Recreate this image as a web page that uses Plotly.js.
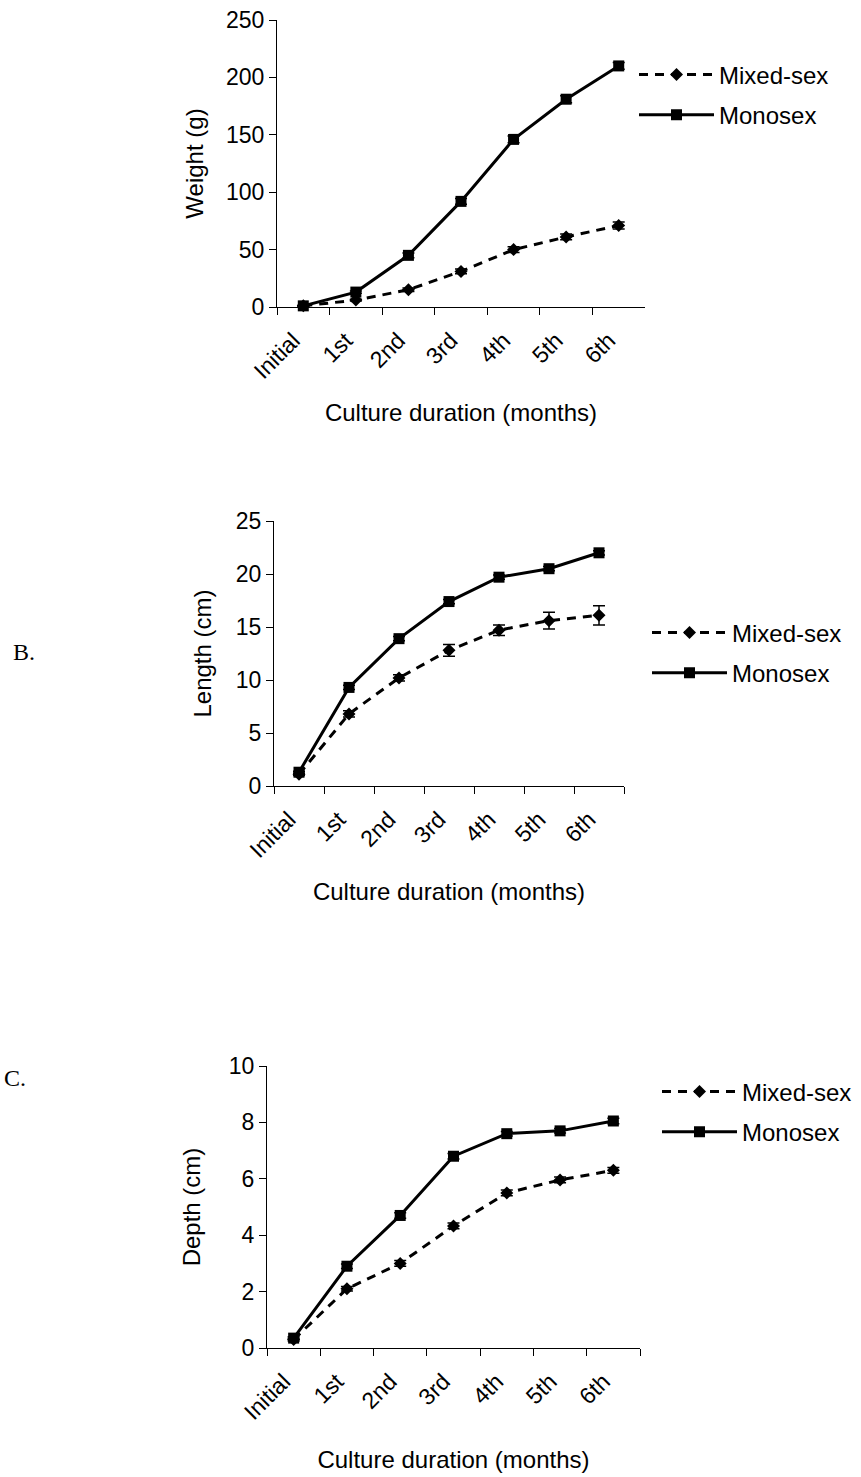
<!DOCTYPE html>
<html>
<head>
<meta charset="utf-8">
<script src="https://cdn.plot.ly/plotly-3.0.1.min.js"></script>
<style>
html,body{margin:0;padding:0;background:#ffffff;}
#chart{width:861px;height:1477px;}
</style>
</head>
<body>
<div id="chart"></div>
<script>
// ---- data ----
const months = ["Initial", "1st", "2nd", "3rd", "4th", "5th", "6th"];

const weightMixed    = [1, 6, 15, 31, 50, 61, 71];
const weightMixedErr = [0.3, 0.8, 1.5, 2, 2.5, 2.5, 3];
const weightMono     = [1, 13, 45, 92, 146, 181, 210];
const weightMonoErr  = [0.3, 1, 2, 2.5, 3, 3, 3];

const lengthMixed    = [1.1, 6.8, 10.2, 12.8, 14.7, 15.6, 16.1];
const lengthMixedErr = [0.1, 0.3, 0.3, 0.55, 0.5, 0.8, 0.9];
const lengthMono     = [1.3, 9.3, 13.9, 17.4, 19.7, 20.5, 22.0];
const lengthMonoErr  = [0.1, 0.2, 0.2, 0.2, 0.2, 0.2, 0.2];

const depthMixed     = [0.3, 2.1, 3.0, 4.33, 5.5, 5.96, 6.3];
const depthMixedErr  = [0.05, 0.08, 0.1, 0.1, 0.1, 0.1, 0.1];
const depthMono      = [0.35, 2.9, 4.7, 6.8, 7.6, 7.7, 8.05];
const depthMonoErr   = [0.05, 0.08, 0.1, 0.1, 0.08, 0.08, 0.1];

const xTitle = "Culture duration (months)";
const seriesNames = ["Mixed-sex", "Monosex"];
const panelLabels = ["B.", "C."];

// ---- helpers ----
const W = 861, H = 1477;
const FONT = "Liberation Sans, Arial, sans-serif";
const px = v => v / W;
const py = v => 1 - v / H;

function mixedTrace(y, err, xa, ya, leg, grp) {
  return {
    x: months, y: y, type: "scatter", mode: "lines+markers",
    name: seriesNames[0], xaxis: xa, yaxis: ya, legend: leg, legendgroup: grp + "a",
    line: {color: "#000", width: 3, dash: "9px,7px"},
    marker: {symbol: "diamond", size: 10, color: "#000"},
    error_y: {type: "data", array: err, visible: true, color: "#000", thickness: 1.5, width: 6},
    cliponaxis: false
  };
}
function monoTrace(y, err, xa, ya, leg, grp) {
  return {
    x: months, y: y, type: "scatter", mode: "lines+markers",
    name: seriesNames[1], xaxis: xa, yaxis: ya, legend: leg, legendgroup: grp + "b",
    line: {color: "#000", width: 3},
    marker: {symbol: "square", size: 11, color: "#000"},
    error_y: {type: "data", array: err, visible: true, color: "#000", thickness: 1.5, width: 6},
    cliponaxis: false
  };
}

const traces = [
  mixedTrace(weightMixed, weightMixedErr, "x", "y", "legend", "A"),
  monoTrace(weightMono, weightMonoErr, "x", "y", "legend", "A"),
  mixedTrace(lengthMixed, lengthMixedErr, "x2", "y2", "legend2", "B"),
  monoTrace(lengthMono, lengthMonoErr, "x2", "y2", "legend2", "B"),
  mixedTrace(depthMixed, depthMixedErr, "x3", "y3", "legend3", "C"),
  monoTrace(depthMono, depthMonoErr, "x3", "y3", "legend3", "C")
];

function xAxis(l, r, anchor, standoff) {
  return {
    domain: [px(l), px(r)], anchor: anchor, type: "category",
    range: [-0.5, 6.5], tickson: "boundaries",
    ticks: "outside", ticklen: 7, tickwidth: 1, tickcolor: "#000",
    showline: true, linecolor: "#000", linewidth: 1,
    showgrid: false, zeroline: false, tickangle: -45,
    ticklabelshift: -10, ticklabelstandoff: 10,
    tickfont: {family: FONT, size: 23, color: "#000"},
    title: {text: xTitle, font: {family: FONT, size: 24, color: "#000"}, standoff: standoff},
    automargin: false, fixedrange: true
  };
}
function yAxis(t, b, anchor, maxv, dt, title, standoff) {
  return {
    domain: [py(b), py(t)], anchor: anchor, range: [0, maxv], dtick: dt, tick0: 0,
    ticks: "outside", ticklen: 7, tickwidth: 1, tickcolor: "#000",
    showline: true, linecolor: "#000", linewidth: 1,
    showgrid: false, zeroline: false,
    tickfont: {family: FONT, size: 23, color: "#000"},
    title: {text: title, font: {family: FONT, size: 24, color: "#000"}, standoff: standoff},
    automargin: false, fixedrange: true
  };
}
function legendAt(x, yc) {
  return {
    x: px(x), y: py(yc), xanchor: "left", yanchor: "middle",
    bgcolor: "rgba(0,0,0,0)", borderwidth: 0,
    font: {family: FONT, size: 24, color: "#000"},
    itemwidth: 75, tracegroupgap: 6, traceorder: "grouped"
  };
}

const layout = {
  width: W, height: H,
  margin: {l: 0, r: 0, t: 0, b: 0, pad: 0},
  paper_bgcolor: "#fff", plot_bgcolor: "#fff",
  showlegend: true,
  xaxis: xAxis(277, 645, "y", 21),
  yaxis: yAxis(20, 307, "x", 250, 50, "Weight (g)", 15),
  xaxis2: xAxis(274, 624, "y2", 21),
  yaxis2: yAxis(521, 786, "x2", 25, 5, "Length (cm)", 17),
  xaxis3: xAxis(267, 640, "y3", 27),
  yaxis3: yAxis(1066, 1348, "x3", 10, 2, "Depth (cm)", 21),
  legend: legendAt(634, 95),
  legend2: legendAt(647, 653),
  legend3: legendAt(657, 1112),
  annotations: [
    {text: panelLabels[0], x: px(11), y: py(652), xref: "paper", yref: "paper",
     xanchor: "left", yanchor: "middle", showarrow: false,
     font: {family: "Liberation Serif, Times New Roman, serif", size: 24, color: "#000"}},
    {text: panelLabels[1], x: px(2), y: py(1078), xref: "paper", yref: "paper",
     xanchor: "left", yanchor: "middle", showarrow: false,
     font: {family: "Liberation Serif, Times New Roman, serif", size: 24, color: "#000"}}
  ]
};

Plotly.newPlot("chart", traces, layout, {displayModeBar: false, staticPlot: true});
</script>
</body>
</html>
